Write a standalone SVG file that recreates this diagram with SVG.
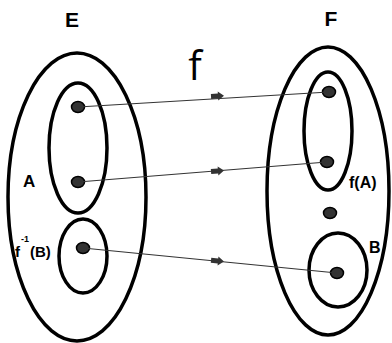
<svg xmlns="http://www.w3.org/2000/svg" width="392" height="343" viewBox="0 0 392 343">
<style>
.set{fill:none;stroke:#000;stroke-width:3.5}
.dot{fill:#333;stroke:#000;stroke-width:1.5}
.lbl{font-family:"Liberation Sans",Arial,sans-serif;font-weight:bold;fill:#000}
.conn{stroke:#333;stroke-width:1.2;fill:none}
.ah{fill:#333}
</style>
<rect width="392" height="343" fill="#fff"/>
<g id="E">
<ellipse class="set" cx="77" cy="197" rx="69" ry="144"/>
<text class="lbl" x="72" y="27" font-size="21" text-anchor="middle">E</text>
</g>
<g id="A">
<ellipse class="set" cx="78" cy="148" rx="29" ry="65"/>
<ellipse class="dot" cx="78" cy="107" rx="6.5" ry="5.5"/>
<ellipse class="dot" cx="78" cy="182" rx="6.5" ry="5.5"/>
<text class="lbl" x="23" y="187" font-size="17">A</text>
</g>
<g id="finvB">
<ellipse class="set" cx="83" cy="256" rx="24" ry="37"/>
<ellipse class="dot" cx="83" cy="248" rx="6.5" ry="5.5"/>
<text class="lbl" x="15" y="257" font-size="15">f</text>
<text class="lbl" x="21" y="242" font-size="9">-1</text>
<text class="lbl" x="30" y="257" font-size="15">(B)</text>
</g>
<g id="F">
<ellipse class="set" cx="328" cy="191" rx="61" ry="144"/>
<ellipse class="dot" cx="330" cy="213" rx="6.5" ry="5.5"/>
<text class="lbl" x="331" y="26" font-size="21" text-anchor="middle">F</text>
</g>
<g id="fA">
<ellipse class="set" cx="328" cy="131" rx="24" ry="59"/>
<ellipse class="dot" cx="329" cy="92" rx="6.5" ry="5.5"/>
<ellipse class="dot" cx="327" cy="162" rx="6.5" ry="5.5"/>
<text class="lbl" x="349" y="188" font-size="16">f(A)</text>
</g>
<g id="B">
<ellipse class="set" cx="338" cy="270" rx="29" ry="37"/>
<ellipse class="dot" cx="337" cy="273" rx="6.5" ry="5.5"/>
<text class="lbl" x="369" y="253" font-size="16">B</text>
</g>
<text x="195" y="80" font-family="'Open Sans','Liberation Sans',sans-serif" font-size="40" text-anchor="middle" fill="#000">f</text>
<g id="connectors">
<line class="conn" x1="78" y1="107" x2="329" y2="92"/>
<line class="conn" x1="78" y1="182" x2="327" y2="162"/>
<line class="conn" x1="83" y1="248" x2="337" y2="273"/>
<polygon class="ah" points="-7,-2.5 0,-2.5 0,-4.5 6,0 0,4.5 0,2.5 -7,2.5" transform="translate(218,96) rotate(-3.4)"/>
<polygon class="ah" points="-7,-2.5 0,-2.5 0,-4.5 6,0 0,4.5 0,2.5 -7,2.5" transform="translate(218,171) rotate(-4.6)"/>
<polygon class="ah" points="-7,-2.5 0,-2.5 0,-4.5 6,0 0,4.5 0,2.5 -7,2.5" transform="translate(218,261) rotate(5.6)"/>
</g>
</svg>
